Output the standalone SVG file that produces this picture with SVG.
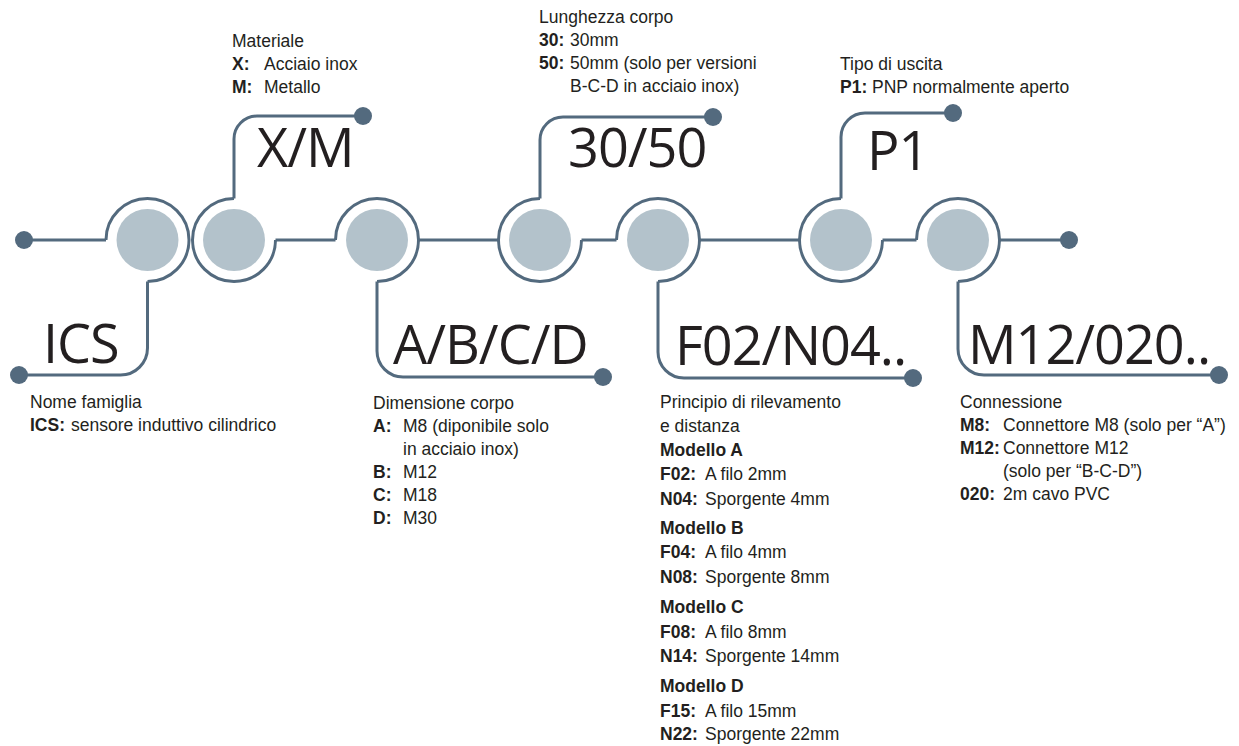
<svg xmlns="http://www.w3.org/2000/svg" width="1239" height="746" viewBox="0 0 1239 746">
<style>
.ln{fill:none;stroke:#536a7e;stroke-width:3}
.dot{fill:#536a7e}
.core{fill:#b3c2cb}
.big{font-family:"Open Sans","DejaVu Sans",sans-serif;font-size:54px;fill:#231f20;letter-spacing:-1px}
.t{font-family:"Liberation Sans",Arial,sans-serif;font-size:17.5px;fill:#231f20}
.b{font-weight:bold}
</style>
<rect width="1239" height="746" fill="#ffffff"/>
<g id="connectors">
<path class="ln" d="M24,240 H106"/>
<path class="ln" d="M275.5,240 H335.5"/>
<path class="ln" d="M418.5,240 H498.5"/>
<path class="ln" d="M581.5,240 H616.5"/>
<path class="ln" d="M699.5,240 H799.5"/>
<path class="ln" d="M882.5,240 H916.5"/>
<path class="ln" d="M999.5,240 H1069"/>
<path class="ln" d="M147.5,281.5 V348 A27,27 0 0 1 120.5,375 H19"/>
<path class="ln" d="M234,198.5 V139 A23,23 0 0 1 257,116 H363"/>
<path class="ln" d="M377,281.5 V351 A26,26 0 0 0 403,377 H603"/>
<path class="ln" d="M540,198.5 V140 A23,23 0 0 1 563,117 H713"/>
<path class="ln" d="M658,281.5 V352 A26,26 0 0 0 684,378 H913"/>
<path class="ln" d="M841,198.5 V137 A24,24 0 0 1 865,113 H953"/>
<path class="ln" d="M958,281.5 V349 A26,26 0 0 0 984,375 H1219"/>
<circle class="dot" cx="24" cy="240" r="9"/>
<circle class="dot" cx="19" cy="375" r="9"/>
<circle class="dot" cx="363" cy="116" r="9"/>
<circle class="dot" cx="603" cy="377" r="9"/>
<circle class="dot" cx="713" cy="117" r="9"/>
<circle class="dot" cx="913" cy="378" r="9"/>
<circle class="dot" cx="953" cy="113" r="9"/>
<circle class="dot" cx="1069" cy="240" r="9"/>
<circle class="dot" cx="1219" cy="375" r="9"/>
</g>
<g id="node-ics">
<path class="ln" d="M106,240 A41.5,41.5 0 1 1 147.5,281.5"/>
<circle class="core" cx="147.5" cy="240" r="31"/>
<text class="big" x="43" y="363">ICS</text>
<text class="t" x="30" y="408">Nome famiglia</text>
<text class="t" y="431"><tspan class="b" x="30">ICS:</tspan><tspan x="71">sensore induttivo cilindrico</tspan></text>
</g>
<g id="node-material">
<path class="ln" d="M234,198.5 A41.5,41.5 0 1 0 275.5,240"/>
<circle class="core" cx="234" cy="240" r="31"/>
<text class="big" x="257" y="167">X/M</text>
<text class="t" x="232" y="47">Materiale</text>
<text class="t" y="70"><tspan class="b" x="232">X:</tspan><tspan x="264">Acciaio inox</tspan></text>
<text class="t" y="93"><tspan class="b" x="232">M:</tspan><tspan x="264">Metallo</tspan></text>
</g>
<g id="node-size">
<path class="ln" d="M335.5,240 A41.5,41.5 0 1 1 377,281.5"/>
<circle class="core" cx="377" cy="240" r="31"/>
<text class="big" x="393" y="364">A/B/C/D</text>
<text class="t" x="373" y="409">Dimensione corpo</text>
<text class="t" y="432"><tspan class="b" x="373">A:</tspan><tspan x="403">M8 (diponibile solo</tspan></text>
<text class="t" x="403" y="455">in acciaio inox)</text>
<text class="t" y="478"><tspan class="b" x="373">B:</tspan><tspan x="403">M12</tspan></text>
<text class="t" y="501"><tspan class="b" x="373">C:</tspan><tspan x="403">M18</tspan></text>
<text class="t" y="524"><tspan class="b" x="373">D:</tspan><tspan x="403">M30</tspan></text>
</g>
<g id="node-length">
<path class="ln" d="M540,198.5 A41.5,41.5 0 1 0 581.5,240"/>
<circle class="core" cx="540" cy="240" r="31"/>
<text class="big" x="568" y="167">30/50</text>
<text class="t" x="539" y="23">Lunghezza corpo</text>
<text class="t" y="46"><tspan class="b" x="539">30:</tspan><tspan x="570">30mm</tspan></text>
<text class="t" y="69"><tspan class="b" x="539">50:</tspan><tspan x="570">50mm (solo per versioni</tspan></text>
<text class="t" x="570" y="92">B-C-D in acciaio inox)</text>
</g>
<g id="node-sensing">
<path class="ln" d="M616.5,240 A41.5,41.5 0 1 1 658,281.5"/>
<circle class="core" cx="658" cy="240" r="31"/>
<text class="big" x="675" y="365">F02/N04..</text>
<text class="t" x="660" y="408">Principio di rilevamento</text>
<text class="t" x="660" y="432">e distanza</text>
<text class="t b" x="660" y="456">Modello A</text>
<text class="t" y="480"><tspan class="b" x="660">F02:</tspan><tspan x="705">A filo 2mm</tspan></text>
<text class="t" y="505"><tspan class="b" x="660">N04:</tspan><tspan x="705">Sporgente 4mm</tspan></text>
<text class="t b" x="660" y="534">Modello B</text>
<text class="t" y="558"><tspan class="b" x="660">F04:</tspan><tspan x="705">A filo 4mm</tspan></text>
<text class="t" y="583"><tspan class="b" x="660">N08:</tspan><tspan x="705">Sporgente 8mm</tspan></text>
<text class="t b" x="660" y="613">Modello C</text>
<text class="t" y="638"><tspan class="b" x="660">F08:</tspan><tspan x="705">A filo 8mm</tspan></text>
<text class="t" y="662"><tspan class="b" x="660">N14:</tspan><tspan x="705">Sporgente 14mm</tspan></text>
<text class="t b" x="660" y="692">Modello D</text>
<text class="t" y="717"><tspan class="b" x="660">F15:</tspan><tspan x="705">A filo 15mm</tspan></text>
<text class="t" y="740"><tspan class="b" x="660">N22:</tspan><tspan x="705">Sporgente 22mm</tspan></text>
</g>
<g id="node-output">
<path class="ln" d="M841,198.5 A41.5,41.5 0 1 0 882.5,240"/>
<circle class="core" cx="841" cy="240" r="31"/>
<text class="big" x="867" y="170">P1</text>
<text class="t" x="840" y="70">Tipo di uscita</text>
<text class="t" y="93"><tspan class="b" x="840">P1:</tspan><tspan x="872">PNP normalmente aperto</tspan></text>
</g>
<g id="node-connection">
<path class="ln" d="M916.5,240 A41.5,41.5 0 1 1 958,281.5"/>
<circle class="core" cx="958" cy="240" r="31"/>
<text class="big" x="968" y="364">M12/020..</text>
<text class="t" x="960" y="408">Connessione</text>
<text class="t" y="431"><tspan class="b" x="960">M8:</tspan><tspan x="1003">Connettore M8 (solo per “A”)</tspan></text>
<text class="t" y="454"><tspan class="b" x="960">M12:</tspan><tspan x="1003">Connettore M12</tspan></text>
<text class="t" x="1003" y="477">(solo per “B-C-D”)</text>
<text class="t" y="500"><tspan class="b" x="960">020:</tspan><tspan x="1003">2m cavo PVC</tspan></text>
</g>
</svg>
